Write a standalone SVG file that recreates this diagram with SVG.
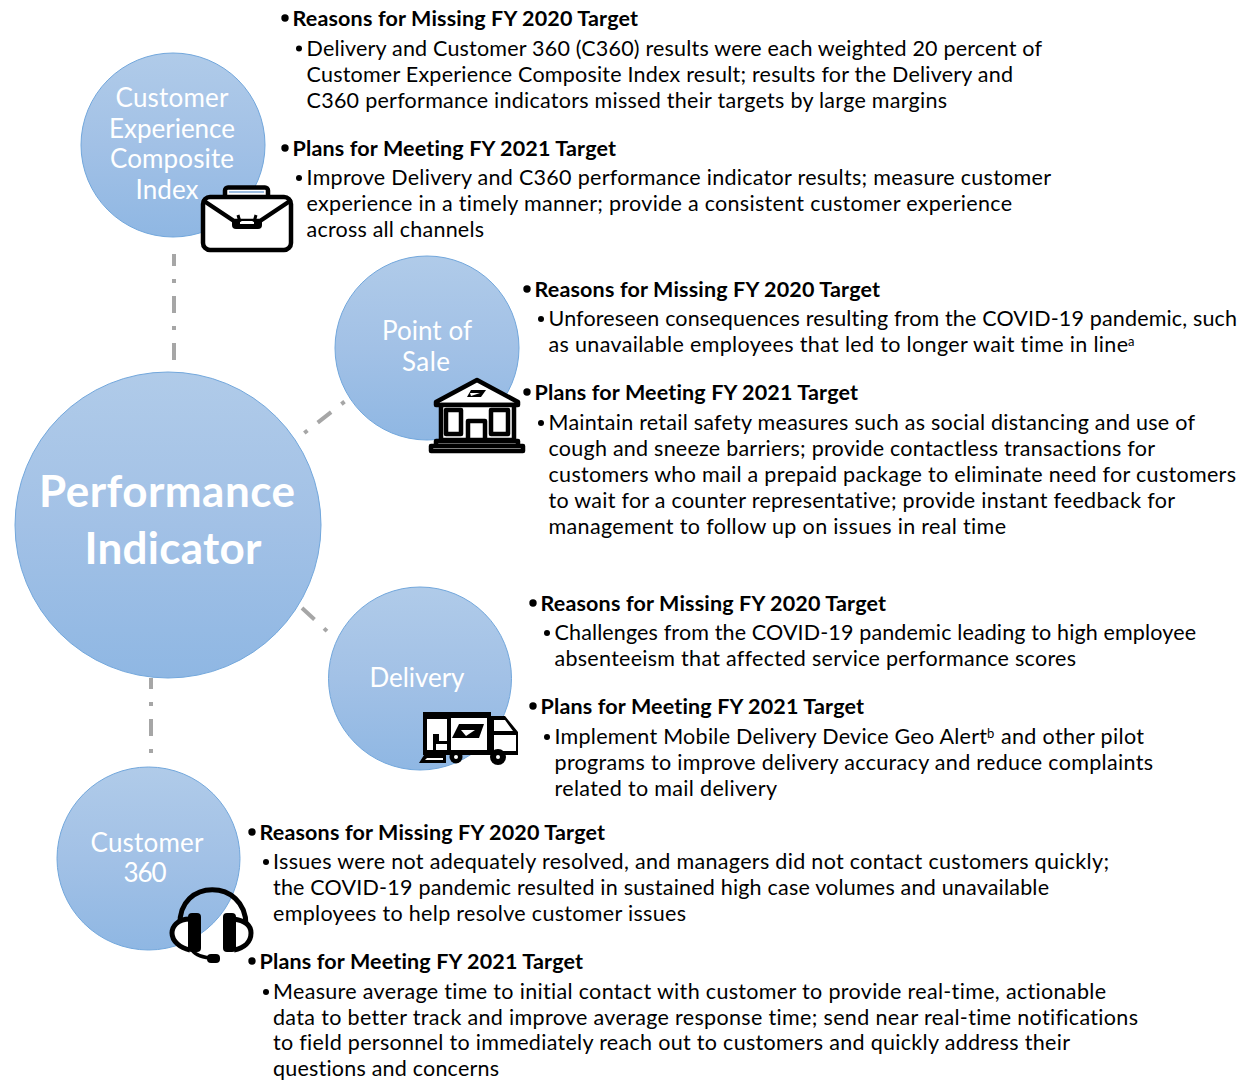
<svg xmlns="http://www.w3.org/2000/svg" width="1245" height="1080" viewBox="0 0 1245 1080">
<style>
text{font-family:Lato,"Open Sans","Liberation Sans",sans-serif;fill:#000;font-variant-ligatures:none}
.h{font-weight:700;font-size:21.5px}
.b{font-size:21.5px}
.c{font-size:26px;fill:#fff;text-anchor:middle}
.m{font-size:44px;font-weight:700;fill:#fff;text-anchor:middle}
.s{font-size:13px}
.circ{fill:url(#g);stroke:#72a7dc;stroke-width:1}
.dash{fill:none;stroke:#a6a6a6;stroke-width:4;stroke-dasharray:17 13 4 13}
.ic{fill:#fff;stroke:#000;stroke-width:4.5;stroke-linejoin:round}
.bk{fill:#000;stroke:none}
.wh{fill:#fff;stroke:none}
.ln{fill:none;stroke:#000;stroke-width:4.5;stroke-linejoin:round;stroke-linecap:round}
.hb{r:3.7px}
.bb{r:3px}
</style>
<defs>
<linearGradient id="g" x1="0" y1="0" x2="0" y2="1"><stop offset="0" stop-color="#b0cbe9"/><stop offset="0.5" stop-color="#a2c1e6"/><stop offset="1" stop-color="#8fb7e3"/></linearGradient>
</defs>
<rect width="1245" height="1080" fill="#fff"/>
<g id="connectors">
<path class="dash" stroke-dashoffset="5" style="stroke-dashoffset:5" d="M174 254V361"/>
<path class="dash" style="stroke-dasharray:4 13 17 13 4 100" d="M304.3 433L346 400.5"/>
<path class="dash" d="M302 608L329 633"/>
<path class="dash" style="stroke-dashoffset:6" d="M151 678V754"/>
</g>
<g id="main">
<circle class="circ" cx="168" cy="525" r="153"/>
<text class="m" x="167" y="507" textLength="256">Performance</text>
<text class="m" x="173" y="564" textLength="177">Indicator</text>
</g>
<g id="cec">
<circle class="circ" cx="173" cy="145" r="92"/>
<text class="c" x="172" y="107" textLength="113">Customer</text>
<text class="c" x="172" y="138" textLength="126">Experience</text>
<text class="c" x="172" y="168" textLength="124">Composite</text>
<text class="c" x="167" y="199" textLength="63">Index</text>
<rect class="ic" x="225" y="187.500" width="43" height="12" rx="3"/>
<rect x="229" y="191" width="35" height="2" fill="#9cbce0"/>
<rect class="ic" x="203" y="197" width="88" height="53" rx="7"/>
<path class="ln" d="M204 201L234 221H260L290 201"/>
<path class="bk" d="M232 219H262V225Q262 229 258 229H236Q232 229 232 225Z"/>
<path class="wh" d="M240 221H254V224H240Z"/>
<path class="ln" style="stroke-width:3;stroke-linecap:butt" d="M240 222L238 215M254 222L256 215"/>
</g>
<g id="cec-text">
<circle class="hb" cx="285" cy="18"/><text class="h" x="292.500" y="26" textLength="345.500">Reasons for Missing FY 2020 Target</text>
<circle class="bb" cx="299" cy="48.500"/><text class="b" x="306.500" y="56" textLength="735.500">Delivery and Customer 360 (C360) results were each weighted 20 percent of</text>
<text class="b" x="306.500" y="82" textLength="706.500">Customer Experience Composite Index result; results for the Delivery and</text>
<text class="b" x="306.500" y="108" textLength="640.500">C360 performance indicators missed their targets by large margins</text>
<circle class="hb" cx="285" cy="148"/><text class="h" x="292.500" y="156" textLength="323.500">Plans for Meeting FY 2021 Target</text>
<circle class="bb" cx="299" cy="178"/><text class="b" x="306.500" y="185" textLength="744.500">Improve Delivery and C360 performance indicator results; measure customer</text>
<text class="b" x="306.500" y="211" textLength="705.500">experience in a timely manner; provide a consistent customer experience</text>
<text class="b" x="306.500" y="237" textLength="177.500">across all channels</text>
</g>
<g id="pos">
<circle class="circ" cx="427" cy="348" r="92"/>
<text class="c" x="427" y="340" textLength="90">Point of</text>
<text class="c" x="426" y="371" textLength="48">Sale</text>
<path class="ic" d="M477 380L436 402V405H518V402Z"/>
<path class="ic" d="M441 405H514V440H441Z"/>
<rect class="ic" x="446" y="410" width="15" height="24"/>
<rect class="ic" x="491" y="410" width="17" height="24"/>
<rect class="ic" x="468" y="421" width="17" height="19"/>
<rect class="ic" x="436" y="441" width="82" height="5"/>
<rect class="ic" x="431" y="446" width="92" height="5"/>
<path class="bk" d="M471 390H486L481 397H467Z"/>
<path class="wh" d="M470 393H480L471 396Z"/>
</g>
<g id="pos-text">
<circle class="hb" cx="527" cy="289"/><text class="h" x="534.500" y="297" textLength="345.500">Reasons for Missing FY 2020 Target</text>
<circle class="bb" cx="541" cy="319"/><text class="b" x="548.500" y="326" textLength="688.500">Unforeseen consequences resulting from the COVID-19 pandemic, such</text>
<text class="b" x="548.500" y="352" textLength="579.500">as unavailable employees that led to longer wait time in line</text><text class="s" x="1128" y="346">a</text>
<circle class="hb" cx="527" cy="392"/><text class="h" x="534.500" y="400" textLength="323.500">Plans for Meeting FY 2021 Target</text>
<circle class="bb" cx="541" cy="423"/><text class="b" x="548.500" y="430" textLength="646.500">Maintain retail safety measures such as social distancing and use of</text>
<text class="b" x="548.500" y="456" textLength="606.500">cough and sneeze barriers; provide contactless transactions for</text>
<text class="b" x="548.500" y="482" textLength="687.500">customers who mail a prepaid package to eliminate need for customers</text>
<text class="b" x="548.500" y="508" textLength="626.500">to wait for a counter representative; provide instant feedback for</text>
<text class="b" x="548.500" y="534" textLength="457.500">management to follow up on issues in real time</text>
</g>
<g id="delivery">
<circle class="circ" cx="420" cy="678.500" r="91.500"/>
<text class="c" x="417" y="687" textLength="95">Delivery</text>
<path class="bk" d="M423 712H491V716H505L518 732V755H423Z"/>
<path class="wh" d="M427 719H447V750H427Z"/>
<path class="bk" d="M433 734H439V741H448V752H433Z"/>
<path class="wh" d="M436 744H447V750H436Z"/>
<path class="wh" d="M451 718H487V750H451Z"/>
<path class="wh" d="M494 720H505L513 731H494ZM494 735H516V751H494Z"/>
<path class="bk" d="M459 724H484L479 738H452Z"/>
<path class="wh" d="M461 730H475L466 736Z"/>
<path class="bk" d="M424 755H446V763H419Z"/>
<path class="wh" d="M427 758H443V760H425Z"/>
<circle cx="456" cy="757" r="6.500" fill="#000"/><circle cx="456" cy="757" r="2" fill="#fff"/>
<circle cx="498" cy="757" r="8" fill="#000"/><circle cx="498" cy="757" r="2" fill="#fff"/>
</g>
<g id="delivery-text">
<circle class="hb" cx="533" cy="603"/><text class="h" x="540.500" y="611" textLength="345.500">Reasons for Missing FY 2020 Target</text>
<circle class="bb" cx="547" cy="633"/><text class="b" x="554.500" y="640" textLength="641.500">Challenges from the COVID-19 pandemic leading to high employee</text>
<text class="b" x="554.500" y="666" textLength="521.500">absenteeism that affected service performance scores</text>
<circle class="hb" cx="533" cy="706"/><text class="h" x="540.500" y="714" textLength="323.500">Plans for Meeting FY 2021 Target</text>
<circle class="bb" cx="547" cy="737"/><text class="b" x="554.500" y="744" textLength="432.500">Implement Mobile Delivery Device Geo Alert</text><text class="s" x="987" y="738">b</text><text class="b" x="1001" y="744" textLength="143">and other pilot</text>
<text class="b" x="554.500" y="770" textLength="598.500">programs to improve delivery accuracy and reduce complaints</text>
<text class="b" x="554.500" y="796" textLength="222.500">related to mail delivery</text>
</g>
<g id="c360">
<circle class="circ" cx="148.500" cy="858.500" r="91.500"/>
<text class="c" x="147" y="852" textLength="113">Customer</text>
<text class="c" x="145" y="882" textLength="43">360</text>
<path d="M180 925C178 878 246 878 246 925" fill="none" stroke="#000" stroke-width="5"/>
<path d="M190 919C177 919 172 927 172 933C172 941 180 948 190 950" fill="#fff" stroke="#000" stroke-width="5"/>
<path d="M234 919C247 921 251 927 251 933C251 942 244 948 234 950" fill="#fff" stroke="#000" stroke-width="5"/>
<rect class="bk" x="188" y="913" width="13" height="39" rx="4"/>
<rect class="bk" x="223" y="913" width="13" height="39" rx="4"/>
<path d="M192 950C196 956 204 958 214 958" fill="none" stroke="#000" stroke-width="3.500"/>
<rect class="bk" x="207" y="954" width="13" height="9" rx="4"/>
</g>
<g id="c360-text">
<circle class="hb" cx="252" cy="832"/><text class="h" x="259.500" y="840" textLength="345.500">Reasons for Missing FY 2020 Target</text>
<circle class="bb" cx="266" cy="862"/><text class="b" x="273" y="869" textLength="836">Issues were not adequately resolved, and managers did not contact customers quickly;</text>
<text class="b" x="273" y="895" textLength="776">the COVID-19 pandemic resulted in sustained high case volumes and unavailable</text>
<text class="b" x="273" y="921" textLength="413">employees to help resolve customer issues</text>
<circle class="hb" cx="252" cy="961"/><text class="h" x="259.500" y="969" textLength="323.500">Plans for Meeting FY 2021 Target</text>
<circle class="bb" cx="266" cy="992"/><text class="b" x="273" y="999" textLength="833">Measure average time to initial contact with customer to provide real-time, actionable</text>
<text class="b" x="273" y="1025" textLength="865">data to better track and improve average response time; send near real-time notifications</text>
<text class="b" x="273" y="1050" textLength="797">to field personnel to immediately reach out to customers and quickly address their</text>
<text class="b" x="273" y="1076" textLength="226">questions and concerns</text>
</g>
</svg>
